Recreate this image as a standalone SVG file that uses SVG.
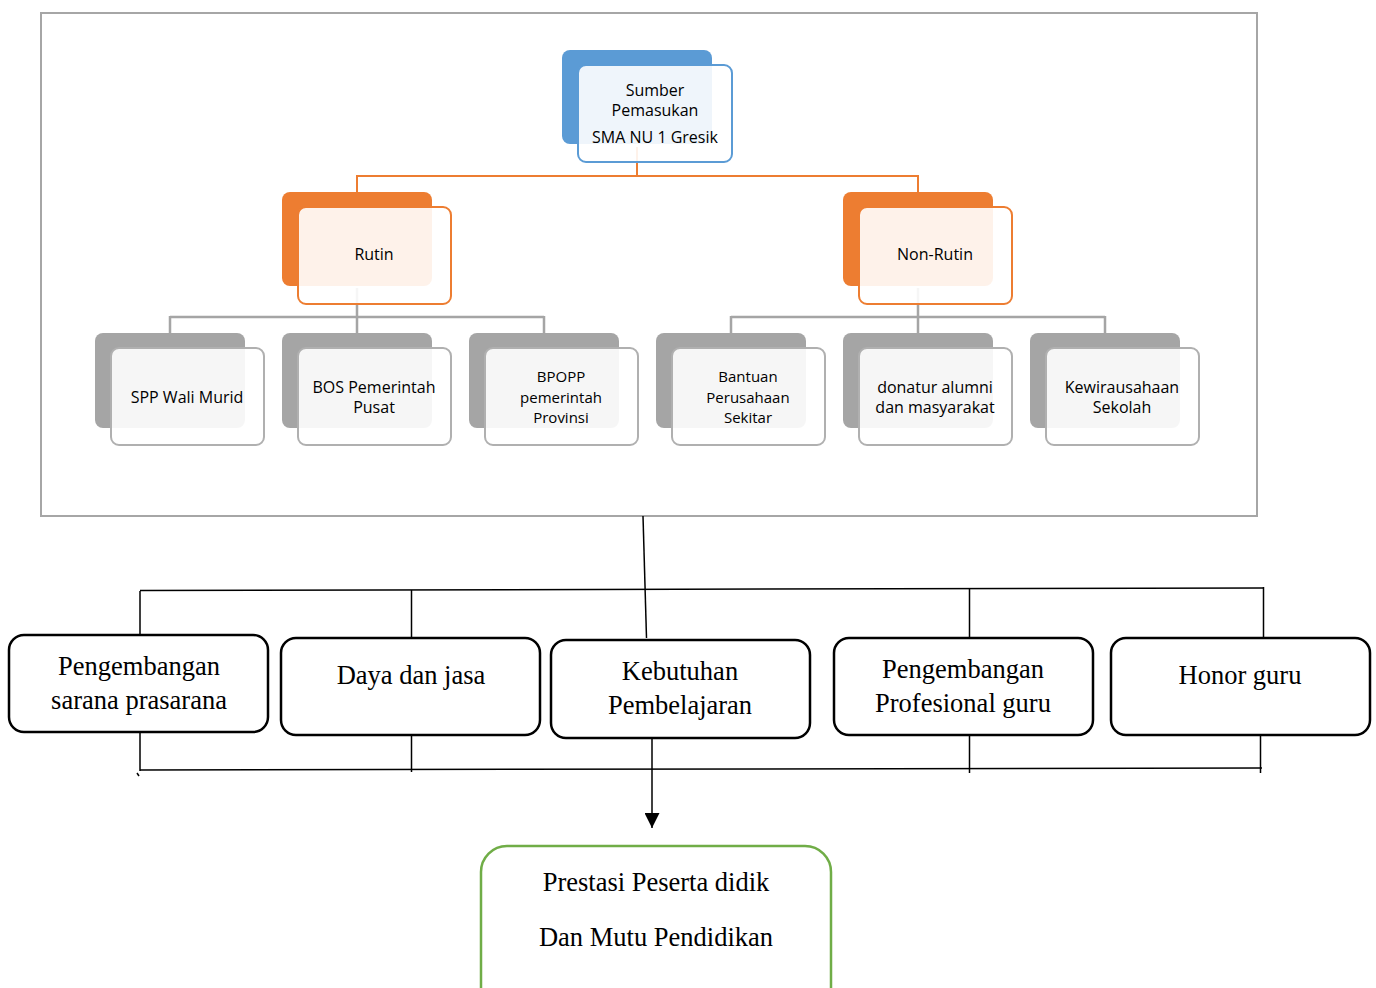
<svg xmlns="http://www.w3.org/2000/svg" width="1376" height="988" viewBox="0 0 1376 988">
<style>
.frame{fill:#fff;stroke:#a6a6a6;stroke-width:2}
.back{stroke:none}
.front{fill:#fff;fill-opacity:0.9;stroke-width:2}
.blue .back{fill:#5b9bd5}.blue .front{stroke:#5b9bd5}
.orange .back{fill:#ed7d31}.orange .front{stroke:#ed7d31}
.gray .back{fill:#a5a5a5}.gray .front{stroke:#b0b0b0}
.t{font-family:"Open Sans","Noto Sans",sans-serif;font-size:16px;fill:#000;text-anchor:middle}
.t3{font-size:15px}
.oc{stroke:#ed7d31;stroke-width:2;fill:none}
.gc{stroke:#a5a5a5;stroke-width:2.5;fill:none}
.bc{stroke:#000;stroke-width:1.5;fill:none}
.box{fill:#fff;stroke:#000;stroke-width:2.5}
.gbox{fill:#fff;stroke:#70ad47;stroke-width:2.5}
.s{font-family:"Liberation Serif","Times New Roman",serif;font-size:26.5px;fill:#000;text-anchor:middle}
</style>
<defs>
<marker id="arr" viewBox="0 0 10 10" refX="10" refY="5" markerWidth="15" markerHeight="15" markerUnits="userSpaceOnUse" orient="auto">
<path d="M0,0 L10,5 L0,10 Z" fill="#000"/>
</marker>
</defs>
<rect class="frame" x="41" y="13" width="1216" height="503"/>
<g id="connectors">
<path class="oc" d="M637,147 V176 M357,176 H918 M357,175 V192 M918,175 V192"/>
<path class="gc" d="M357,288 V317 M170,317 H544 M170,316 V333 M357,316 V333 M544,316 V333"/>
<path class="gc" d="M918,288 V317 M731,317 H1105 M731,316 V333 M918,316 V333 M1105,316 V333"/>
<path class="bc" d="M643,516 L646.5,638"/>
<path class="bc" d="M140,590.5 L1264,588"/>
<path class="bc" d="M140,591 V634 M411.5,590 V637 M969.5,589 V637 M1263.5,587 V637"/>
<path class="bc" d="M140,732 V771 M411.5,735 V772 M969.5,735 V773 M1260.5,735 V773"/>
<path class="bc" d="M140,770 L1262,768"/>
<path class="bc" d="M137,773 L139,776"/>
<path class="bc" d="M652,738 V828" marker-end="url(#arr)"/>
</g>
<g id="root" class="blue">
<rect class="back" x="562" y="50" width="150" height="94" rx="8"/>
<rect class="front" x="578" y="65" width="154" height="97" rx="8"/>
<text class="t" x="655" y="96">Sumber</text>
<text class="t" x="655" y="116">Pemasukan</text>
<text class="t" x="655" y="143">SMA NU 1 Gresik</text>
</g>
<g id="rutin" class="orange">
<rect class="back" x="282" y="192" width="150" height="94" rx="8"/>
<rect class="front" x="298" y="207" width="153" height="97" rx="8"/>
<text class="t" x="374" y="260">Rutin</text>
</g>
<g id="nonrutin" class="orange">
<rect class="back" x="843" y="192" width="150" height="94" rx="8"/>
<rect class="front" x="859" y="207" width="153" height="97" rx="8"/>
<text class="t" x="935" y="260">Non-Rutin</text>
</g>
<g id="spp" class="gray">
<rect class="back" x="95" y="333" width="150" height="95" rx="8"/>
<rect class="front" x="111" y="348" width="153" height="97" rx="8"/>
<text class="t" x="187" y="403">SPP Wali Murid</text>
</g>
<g id="bos" class="gray">
<rect class="back" x="282" y="333" width="150" height="95" rx="8"/>
<rect class="front" x="298" y="348" width="153" height="97" rx="8"/>
<text class="t" x="374" y="393">BOS Pemerintah</text>
<text class="t" x="374" y="413">Pusat</text>
</g>
<g id="bpopp" class="gray">
<rect class="back" x="469" y="333" width="150" height="95" rx="8"/>
<rect class="front" x="485" y="348" width="153" height="97" rx="8"/>
<text class="t t3" x="561" y="382">BPOPP</text>
<text class="t t3" x="561" y="402.5">pemerintah</text>
<text class="t t3" x="561" y="423">Provinsi</text>
</g>
<g id="bantuan" class="gray">
<rect class="back" x="656" y="333" width="150" height="95" rx="8"/>
<rect class="front" x="672" y="348" width="153" height="97" rx="8"/>
<text class="t t3" x="748" y="382">Bantuan</text>
<text class="t t3" x="748" y="402.5">Perusahaan</text>
<text class="t t3" x="748" y="423">Sekitar</text>
</g>
<g id="donatur" class="gray">
<rect class="back" x="843" y="333" width="150" height="95" rx="8"/>
<rect class="front" x="859" y="348" width="153" height="97" rx="8"/>
<text class="t" x="935" y="393">donatur alumni</text>
<text class="t" x="935" y="413">dan masyarakat</text>
</g>
<g id="kewira" class="gray">
<rect class="back" x="1030" y="333" width="150" height="95" rx="8"/>
<rect class="front" x="1046" y="348" width="153" height="97" rx="8"/>
<text class="t" x="1122" y="393">Kewirausahaan</text>
<text class="t" x="1122" y="413">Sekolah</text>
</g>
<g id="sarana">
<rect class="box" x="9" y="635" width="259" height="97" rx="15"/>
<text class="s" x="139" y="675">Pengembangan</text>
<text class="s" x="139" y="709">sarana prasarana</text>
</g>
<g id="daya">
<rect class="box" x="281" y="638" width="259" height="97" rx="15"/>
<text class="s" x="411" y="684">Daya dan jasa</text>
</g>
<g id="kebutuhan">
<rect class="box" x="551" y="640" width="259" height="98" rx="15"/>
<text class="s" x="680" y="680">Kebutuhan</text>
<text class="s" x="680" y="714">Pembelajaran</text>
</g>
<g id="profesional">
<rect class="box" x="834" y="638" width="259" height="97" rx="15"/>
<text class="s" x="963" y="678">Pengembangan</text>
<text class="s" x="963" y="712">Profesional guru</text>
</g>
<g id="honor">
<rect class="box" x="1111" y="638" width="259" height="97" rx="15"/>
<text class="s" x="1240" y="684">Honor guru</text>
</g>
<g id="prestasi">
<rect class="gbox" x="481" y="846" width="350" height="170" rx="26"/>
<text class="s" x="656" y="891">Prestasi Peserta didik</text>
<text class="s" x="656" y="946">Dan Mutu Pendidikan</text>
</g>
</svg>
